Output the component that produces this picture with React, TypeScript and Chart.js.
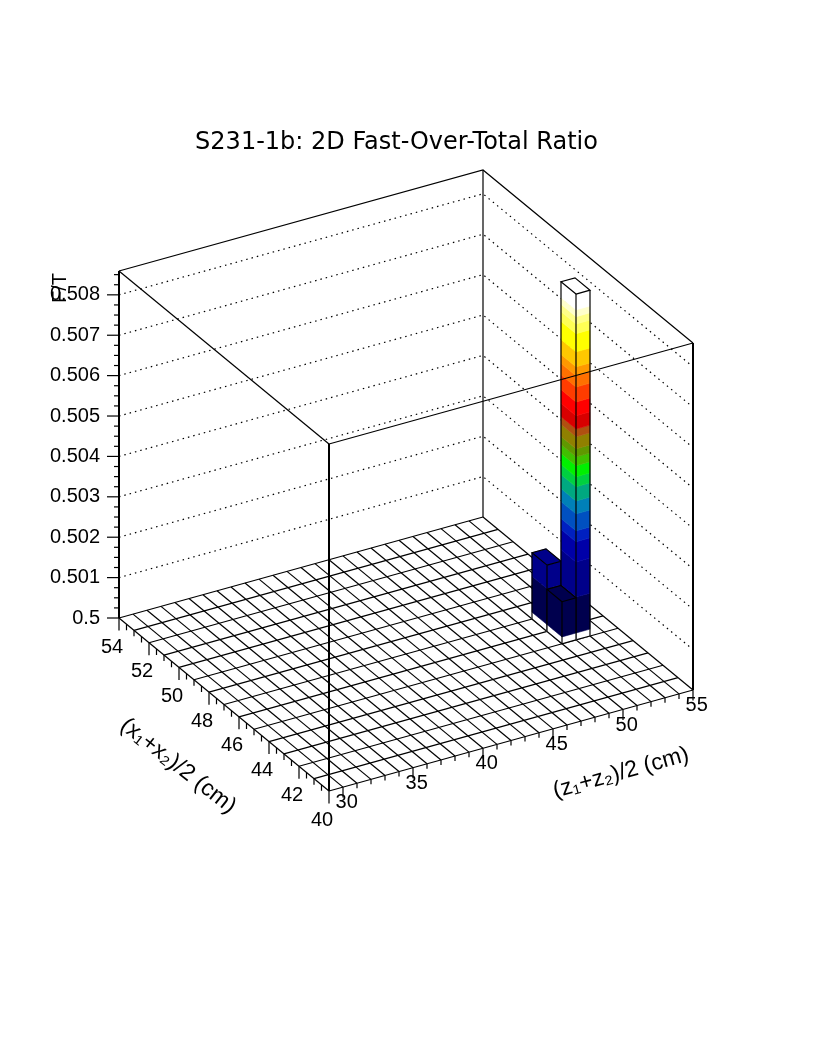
import React, { useEffect, useRef } from "react";
import { Chart, registerables } from "chart.js";

Chart.register(...registerables);

const chartTitle = "S231-1b: 2D Fast-Over-Total Ratio";
const zAxisTitle = "(z\u2081+z\u2082)/2 (cm)";
const xAxisTitle = "(x\u2081+x\u2082)/2 (cm)";
const valueAxisTitle = "F/T";

// bin edges of the 2D histogram
const zEdges = [29, 30, 31, 32, 33, 34, 35, 36, 37, 38, 39, 40, 41, 42, 43, 44, 45, 46, 47, 48, 49, 50, 51, 52, 53, 54, 55];
const xEdges = [40, 41, 42, 43, 44, 45, 46, 47, 48, 49, 50, 51, 52, 53, 54];

// filled bins, painted back to front
const barZ = [51, 52, 51];
const barX = [46, 45, 45];
const barV = [0.50164, 0.50856, 0.50104];

// axis ticks
const zMajor = [30, 35, 40, 45, 50, 55];
const zMinor = [31, 32, 33, 34, 36, 37, 38, 39, 41, 42, 43, 44, 46, 47, 48, 49, 51, 52, 53, 54];
const xMajor = [40, 42, 44, 46, 48, 50, 52, 54];
const xMinor = [40.5, 41, 41.5, 42.5, 43, 43.5, 44.5, 45, 45.5, 46.5, 47, 47.5, 48.5, 49, 49.5, 50.5, 51, 51.5, 52.5, 53, 53.5];
const vMajor = [0.5, 0.501, 0.502, 0.503, 0.504, 0.505, 0.506, 0.507, 0.508];
const vMinor = [0.50025, 0.5005, 0.50075, 0.50125, 0.5015, 0.50175, 0.50225, 0.5025, 0.50275, 0.50325, 0.5035, 0.50375, 0.50425, 0.5045, 0.50475, 0.50525, 0.5055, 0.50575, 0.50625, 0.5065, 0.50675, 0.50725, 0.5075, 0.50775, 0.50825, 0.5085];

// colour levels of the bars
const bandEdges = [0.5, 0.50017, 0.50106, 0.50193, 0.50243, 0.5027, 0.50312, 0.50344, 0.50379, 0.50404, 0.50431, 0.50453, 0.50473, 0.50503, 0.50522, 0.50555, 0.50589, 0.50626, 0.50654, 0.50676, 0.50713, 0.50758, 0.50782, 0.508, 0.50817, 0.5086];
const bandColors = ["#ffffff", "#00004e", "#00008a", "#0000a8", "#0020c0", "#0050c0", "#0080b8", "#00a880", "#00d040", "#00f000", "#40c000", "#609800", "#908000", "#b05010", "#d80000", "#ff0000", "#ff3c00", "#ff7000", "#ff9800", "#ffc800", "#ffff00", "#ffff55", "#ffff88", "#ffffcc", "#ffffff"];

const V_MIN = 0.5;
const V_MAX = 0.50859;
const BOX_HEIGHT = 347;
const PER_PX = (V_MAX - V_MIN) / BOX_HEIGHT;

// parallel projection of (z, x, value) onto the two chart scales
const U = (z: number, x: number) => 329 + (z - 29) * 14 - (x - 40) * 15;
const W = (z: number, x: number, v: number) =>
  v + ((z - 29) * 3.885 + (x - 40) * 12.357 - 173) * PER_PX;
const P = (z: number, x: number, v: number, du = 0, dy = 0) => ({
  x: U(z, x) + du,
  y: W(z, x, v) - dy * PER_PX,
});

const THIN = 1.2;

const line = (data: any[], borderWidth = THIN, borderDash: number[] = []) => ({
  data,
  showLine: true,
  borderColor: "#000000",
  backgroundColor: "#000000",
  borderWidth,
  borderDash,
  pointRadius: 0,
  tension: 0,
  fill: false,
  clip: false,
});
const face = (data: any[], faceColor: string) => ({
  data,
  faceColor,
  showLine: false,
  pointRadius: 0,
  clip: false,
});

function buildDatasets() {
  const out: any[] = [];
  // dotted wall levels
  vMajor.slice(1).forEach((v) =>
    out.push(line([P(29, 54, v), P(55, 54, v), P(55, 40, v)], THIN, [1.5, 4]))
  );
  // back edges of the box
  out.push(line([P(55, 54, V_MIN), P(55, 54, V_MAX)]));
  out.push(line([P(29, 54, V_MAX), P(55, 54, V_MAX), P(55, 40, V_MAX)]));
  // floor
  zEdges.forEach((z) => out.push(line([P(z, 40, V_MIN), P(z, 54, V_MIN)])));
  xEdges.forEach((x) => out.push(line([P(29, x, V_MIN), P(55, x, V_MIN)])));
  // bars
  barZ.forEach((z, i) => {
    const x = barX[i];
    const v = barV[i];
    const z2 = z + 1;
    const x2 = x + 1;
    let topColor = "#ffffff";
    bandColors.forEach((c, b) => {
      const lo = bandEdges[b];
      const hi = Math.min(bandEdges[b + 1], v);
      if (lo >= v) return;
      topColor = c;
      out.push(face([P(z, x2, lo), P(z, x, lo), P(z, x, hi), P(z, x2, hi)], c));
      out.push(face([P(z, x, lo), P(z2, x, lo), P(z2, x, hi), P(z, x, hi)], c));
    });
    out.push(face([P(z, x, v), P(z2, x, v), P(z2, x2, v), P(z, x2, v)], topColor));
    out.push(line([P(z, x2, V_MIN), P(z, x2, v)]));
    out.push(line([P(z, x, V_MIN), P(z, x, v)]));
    out.push(line([P(z2, x, V_MIN), P(z2, x, v)]));
    out.push(line([P(z, x2, V_MIN), P(z, x, V_MIN), P(z2, x, V_MIN)]));
    out.push(line([P(z, x, v), P(z2, x, v), P(z2, x2, v), P(z, x2, v), P(z, x, v)]));
  });
  // front edges of the box
  out.push(line([P(29, 40, V_MAX), P(55, 40, V_MAX)]));
  out.push(line([P(29, 54, V_MAX), P(29, 40, V_MAX)]));
  out.push(line([P(29, 54, V_MIN), P(29, 54, V_MAX)], 2));
  out.push(line([P(29, 40, V_MIN), P(29, 40, V_MAX)], 2));
  out.push(line([P(55, 40, V_MIN), P(55, 40, V_MAX)], 2));
  // tick marks
  zMajor.forEach((z) => out.push(line([P(z, 40, V_MIN), P(z, 40, V_MIN, 0, 10.5)])));
  zMinor.forEach((z) => out.push(line([P(z, 40, V_MIN), P(z, 40, V_MIN, 0, 5)])));
  xMajor.forEach((x) => out.push(line([P(29, x, V_MIN), P(29, x, V_MIN, 0, 12.5)])));
  xMinor.forEach((x) => out.push(line([P(29, x, V_MIN), P(29, x, V_MIN, 0, 6)])));
  vMajor.forEach((v) => out.push(line([P(29, 54, v, -12), P(29, 54, v)])));
  vMinor.forEach((v) => out.push(line([P(29, 54, v, -5), P(29, 54, v)])));
  return out.reverse(); // Chart.js paints the last dataset first
}

const facePlugin = {
  id: "faces",
  beforeDatasetDraw(chart: any, args: any) {
    const ds = chart.data.datasets[args.index];
    if (!ds.faceColor) return;
    const pts = args.meta.data;
    const ctx = chart.ctx;
    ctx.save();
    ctx.beginPath();
    pts.forEach((p: any, i: number) => (i ? ctx.lineTo(p.x, p.y) : ctx.moveTo(p.x, p.y)));
    ctx.closePath();
    ctx.fillStyle = ds.faceColor;
    ctx.strokeStyle = ds.faceColor;
    ctx.lineWidth = 0.6;
    ctx.fill();
    ctx.stroke();
    ctx.restore();
  },
};

const textPlugin = {
  id: "texts",
  afterDraw(chart: any) {
    const { ctx, scales } = chart;
    const sx = (p: any) => scales.x.getPixelForValue(p.x);
    const sy = (p: any) => scales.y.getPixelForValue(p.y);
    const put = (t: string, px: number, py: number, size = 20, rot = 0) => {
      ctx.save();
      ctx.translate(px, py);
      ctx.rotate((rot * Math.PI) / 180);
      ctx.font = size + 'px "Liberation Sans"';
      ctx.fillStyle = "#000000";
      ctx.textAlign = "center";
      ctx.textBaseline = "middle";
      ctx.fillText(t, 0, 0);
      ctx.restore();
    };
    zMajor.forEach((z) => {
      const p = P(z, 40, V_MIN);
      put(String(z), sx(p) + 3.7, sy(p) + 15.6);
    });
    xMajor.forEach((x) => {
      const p = P(29, x, V_MIN);
      put(String(x), sx(p) - 7, sy(p) + 29);
    });
    put(zAxisTitle, 621, 773, 23, -15.5);
    put(xAxisTitle, 178, 766, 23, 38);
    put(valueAxisTitle, 60, 288, 20, -90);
  },
};

export default function App() {
  const ref = useRef<HTMLCanvasElement | null>(null);
  useEffect(() => {
    const chart = new Chart(ref.current as HTMLCanvasElement, {
      type: "scatter",
      data: { datasets: buildDatasets() },
      plugins: [facePlugin, textPlugin],
      options: {
        animation: false,
        responsive: false,
        layout: { padding: { left: 40, right: 63, top: 0, bottom: 438 } },
        plugins: {
          legend: { display: false },
          tooltip: { enabled: false },
          title: {
            display: true,
            text: chartTitle,
            color: "#000000",
            font: { family: "DejaVu Sans", size: 24, weight: "normal" },
            padding: { top: 128, bottom: 114.2 },
          },
        },
        scales: {
          x: { type: "linear", display: false, min: 119, max: 753 },
          y: {
            type: "linear",
            min: V_MIN,
            max: V_MAX,
            border: { display: false },
            grid: { display: false, drawTicks: false },
            afterFit: (s: any) => {
              s.width = 79;
              s.paddingTop = 0;
              s.paddingBottom = 0;
            },
            ticks: {
              stepSize: 0.001,
              includeBounds: false,
              padding: 19,
              color: "#000000",
              maxRotation: 0,
              autoSkip: false,
              font: { family: "Liberation Sans", size: 20 },
              callback: (v: any) => (Number(v) === 0.5 ? "0.5" : Number(v).toFixed(3)),
            },
          },
        },
      } as any,
    });
    return () => chart.destroy();
  }, []);
  return (
    <div style={{ position: "absolute", left: 0, top: 0, width: 816, height: 1056 }}>
      <canvas ref={ref} width={816} height={1056} style={{ display: "block" }} />
    </div>
  );
}
